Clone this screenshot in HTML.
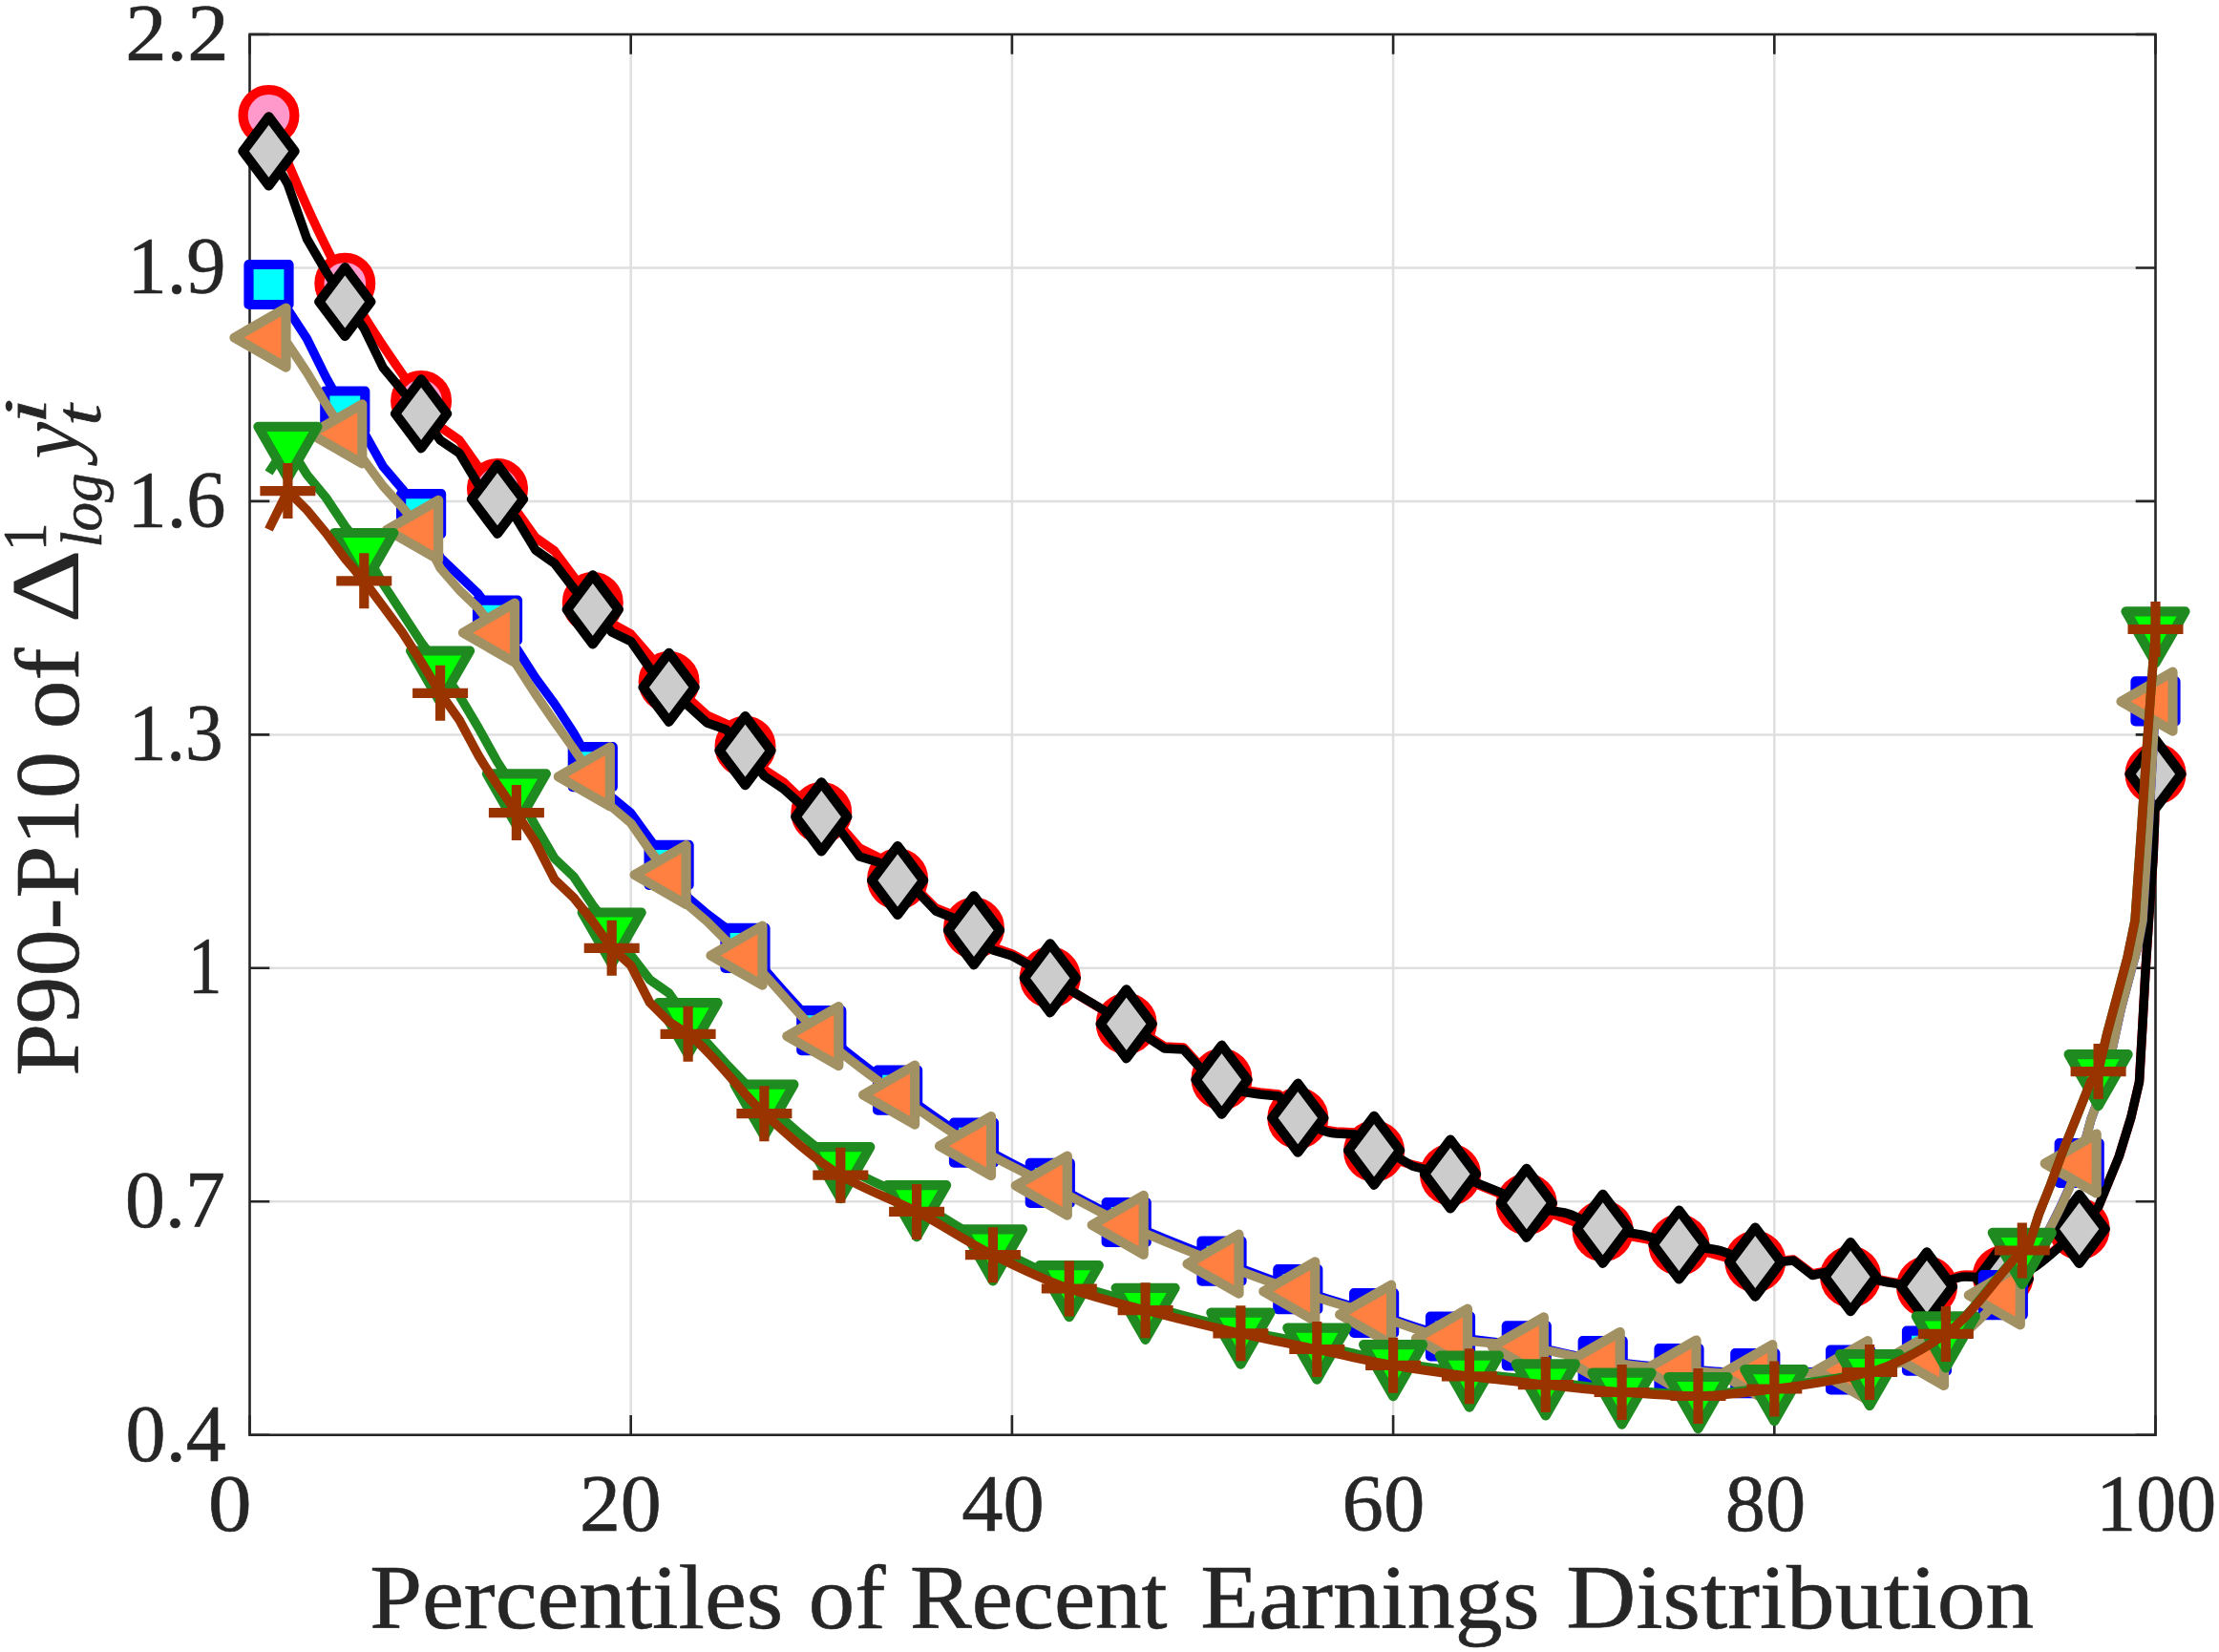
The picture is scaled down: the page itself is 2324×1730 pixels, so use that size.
<!DOCTYPE html>
<html><head><meta charset="utf-8"><title>P90-P10 chart</title>
<style>html,body{margin:0;padding:0;background:#fff;overflow:hidden;}svg{display:block;}</style>
</head><body>
<svg width="2324" height="1730" viewBox="0 0 2324 1730">
<rect width="2324" height="1730" fill="#ffffff"/>
<path d="M660.7,36.0V1502.7M1059.9,36.0V1502.7M1459.1,36.0V1502.7M1858.3,36.0V1502.7M261.5,1258.2H2257.5M261.5,1013.8H2257.5M261.5,769.4H2257.5M261.5,524.9H2257.5M261.5,280.5H2257.5" stroke="#dfdfdf" stroke-width="2.5" fill="none"/>
<path d="M261.5,1502.7V1481.9M261.5,36.0V56.8M660.7,1502.7V1481.9M660.7,36.0V56.8M1059.9,1502.7V1481.9M1059.9,36.0V56.8M1459.1,1502.7V1481.9M1459.1,36.0V56.8M1858.3,1502.7V1481.9M1858.3,36.0V56.8M2257.5,1502.7V1481.9M2257.5,36.0V56.8M261.5,1502.7H282.3M2257.5,1502.7H2236.7M261.5,1258.2H282.3M2257.5,1258.2H2236.7M261.5,1013.8H282.3M2257.5,1013.8H2236.7M261.5,769.4H282.3M2257.5,769.4H2236.7M261.5,524.9H282.3M2257.5,524.9H2236.7M261.5,280.5H282.3M2257.5,280.5H2236.7M261.5,36.0H282.3M2257.5,36.0H2236.7" stroke="#262626" stroke-width="2.6" fill="none"/>
<rect x="261.5" y="36.0" width="1996.0" height="1466.7" fill="none" stroke="#262626" stroke-width="2.6"/>
<path d="M281.5,120.9C308.1,188.3 334.7,248.4 361.3,296.7C387.9,345.0 414.5,381.9 441.1,419.9L461.1,447.0L481.1,461.0L501.0,489.0L521.0,511.9L540.9,535.0L560.9,563.0L580.8,577.0L600.8,604.0L620.8,631.0L640.7,653.0L660.7,664.0L680.6,687.0L700.6,714.0L720.6,731.0L740.5,749.0L760.5,758.0L780.5,781.7L800.4,806.0L820.4,819.0L840.3,838.0L860.3,851.0L880.3,865.0L900.2,888.0L920.2,898.0L940.1,920.6L960.1,931.0L980.1,951.0L1000.0,959.0L1020.0,971.8L1039.9,992.0L1059.9,999.0L1079.9,1010.0L1099.8,1023.6C1126.4,1040.9 1153.0,1056.6 1179.7,1071.9L1199.6,1083.0L1219.6,1096.0L1239.5,1097.0L1259.5,1119.0L1279.5,1130.0L1299.4,1141.0L1319.4,1144.0L1339.3,1146.0L1359.3,1170.9C1372.6,1178.7 1385.9,1183.9 1399.2,1185.0L1419.2,1186.0L1439.1,1205.5C1465.8,1219.4 1492.4,1220.9 1519.0,1230.0C1545.6,1239.1 1572.2,1251.2 1598.8,1261.0C1625.4,1270.8 1652.0,1282.6 1678.7,1289.0C1705.3,1295.4 1731.9,1298.4 1758.5,1303.7C1785.1,1309.0 1811.7,1321.0 1838.3,1321.0L1858.3,1321.0L1878.3,1319.0L1898.2,1334.0L1918.2,1330.0L1938.1,1337.0L1958.1,1338.0L1978.0,1342.0C1991.3,1344.2 2004.7,1347.5 2018.0,1347.5C2031.3,1347.5 2044.6,1335.0 2057.9,1335.0C2071.2,1335.0 2084.5,1336.5 2097.8,1336.5C2124.4,1336.5 2151.0,1309.8 2177.7,1287.0L2197.6,1264.0L2219.3,1211.0L2231.9,1170.0L2240.5,1133.0L2244.0,1072.0L2247.0,1017.0L2250.5,963.0L2255.0,900.0L2256.6,860.0L2257.5,810.6" fill="none" stroke="#ff0000" stroke-width="9.5" stroke-linejoin="round" stroke-linecap="butt"/>
<g fill="#ff99cc" stroke="#ff0000" stroke-width="10.2" stroke-linejoin="round">
<circle cx="281.5" cy="120.9" r="26.9"/>
<circle cx="361.3" cy="296.7" r="26.9"/>
<circle cx="441.1" cy="419.9" r="26.9"/>
<circle cx="521.0" cy="511.9" r="26.9"/>
<circle cx="620.8" cy="631.0" r="26.9"/>
<circle cx="700.6" cy="714.0" r="26.9"/>
<circle cx="780.5" cy="781.7" r="26.9"/>
<circle cx="860.3" cy="851.0" r="26.9"/>
<circle cx="940.1" cy="920.6" r="26.9"/>
<circle cx="1020.0" cy="971.8" r="26.9"/>
<circle cx="1099.8" cy="1023.6" r="26.9"/>
<circle cx="1179.7" cy="1071.9" r="26.9"/>
<circle cx="1279.5" cy="1130.0" r="26.9"/>
<circle cx="1359.3" cy="1170.9" r="26.9"/>
<circle cx="1439.1" cy="1205.5" r="26.9"/>
<circle cx="1519.0" cy="1230.0" r="26.9"/>
<circle cx="1598.8" cy="1261.0" r="26.9"/>
<circle cx="1678.7" cy="1289.0" r="26.9"/>
<circle cx="1758.5" cy="1303.7" r="26.9"/>
<circle cx="1838.3" cy="1321.0" r="26.9"/>
<circle cx="1938.1" cy="1337.0" r="26.9"/>
<circle cx="2018.0" cy="1347.5" r="26.9"/>
<circle cx="2097.8" cy="1336.5" r="26.9"/>
<circle cx="2177.7" cy="1287.0" r="26.9"/>
<circle cx="2257.5" cy="810.6" r="26.9"/>
</g>
<path d="M281.5,158.4L301.4,193.0L321.4,250.0L341.3,284.0L361.3,316.0L381.3,344.0L401.2,385.0L421.2,409.0L441.1,433.3L461.1,461.0L481.1,474.5L501.0,507.7L521.0,522.8L540.9,543.0L560.9,576.0L580.8,590.0L600.8,616.0L620.8,638.4L640.7,662.0L660.7,671.6L680.6,700.0L700.6,719.8L720.6,739.0L740.5,757.0L760.5,764.0L780.5,786.1L800.4,812.6L820.4,826.0L840.3,844.0L860.3,855.4L880.3,870.0L900.2,897.0L920.2,903.0L940.1,922.0L960.1,933.0L980.1,954.0L1000.0,962.0L1020.0,974.3L1039.9,995.0L1059.9,1001.0L1079.9,1012.0L1099.8,1024.3C1126.4,1040.6 1153.0,1055.7 1179.7,1072.3L1199.6,1085.0L1219.6,1098.0L1239.5,1099.0L1259.5,1121.0L1279.5,1130.7L1299.4,1143.0L1319.4,1146.0L1339.3,1148.0L1359.3,1170.7C1372.6,1179.1 1385.9,1185.9 1399.2,1187.0L1419.2,1188.0L1439.1,1204.8L1459.1,1209.0L1479.1,1221.0C1492.4,1225.4 1505.7,1226.0 1519.0,1229.5C1545.6,1236.5 1572.2,1250.0 1598.8,1259.8L1618.8,1267.0L1638.8,1270.0C1652.1,1272.8 1665.4,1283.8 1678.7,1286.8C1692.0,1289.8 1705.3,1290.4 1718.6,1293.0C1731.9,1295.6 1745.2,1301.1 1758.5,1303.5C1771.8,1305.9 1785.2,1306.4 1798.5,1309.0C1811.8,1311.5 1825.1,1321.1 1838.3,1321.6L1858.3,1322.0L1878.3,1320.0L1898.2,1335.5L1918.2,1331.0L1938.1,1337.1L1958.1,1339.0L1978.0,1343.0C1991.3,1345.0 2004.7,1347.4 2018.0,1347.4C2031.3,1347.4 2044.6,1337.0 2057.9,1337.0C2071.2,1337.0 2084.5,1339.4 2097.8,1339.4C2124.4,1339.4 2151.0,1310.6 2177.7,1287.0L2197.6,1264.0L2219.3,1211.0L2231.9,1170.0L2240.5,1133.0L2244.0,1072.0L2247.0,1017.0L2250.5,963.0L2255.0,900.0L2256.6,860.0L2257.5,810.6" fill="none" stroke="#000000" stroke-width="9.5" stroke-linejoin="round" stroke-linecap="butt"/>
<g fill="#cccccc" stroke="#000000" stroke-width="10.2" stroke-linejoin="round">
<path d="M281.5,122.4L308.5,158.4L281.5,194.4L254.5,158.4Z"/>
<path d="M361.3,280.0L388.3,316.0L361.3,352.0L334.3,316.0Z"/>
<path d="M441.1,397.3L468.1,433.3L441.1,469.3L414.1,433.3Z"/>
<path d="M521.0,486.8L548.0,522.8L521.0,558.8L494.0,522.8Z"/>
<path d="M620.8,602.4L647.8,638.4L620.8,674.4L593.8,638.4Z"/>
<path d="M700.6,683.8L727.6,719.8L700.6,755.8L673.6,719.8Z"/>
<path d="M780.5,750.1L807.5,786.1L780.5,822.1L753.5,786.1Z"/>
<path d="M860.3,819.4L887.3,855.4L860.3,891.4L833.3,855.4Z"/>
<path d="M940.1,886.0L967.1,922.0L940.1,958.0L913.1,922.0Z"/>
<path d="M1020.0,938.3L1047.0,974.3L1020.0,1010.3L993.0,974.3Z"/>
<path d="M1099.8,988.3L1126.8,1024.3L1099.8,1060.3L1072.8,1024.3Z"/>
<path d="M1179.7,1036.3L1206.7,1072.3L1179.7,1108.3L1152.7,1072.3Z"/>
<path d="M1279.5,1094.7L1306.5,1130.7L1279.5,1166.7L1252.5,1130.7Z"/>
<path d="M1359.3,1134.7L1386.3,1170.7L1359.3,1206.7L1332.3,1170.7Z"/>
<path d="M1439.1,1168.8L1466.1,1204.8L1439.1,1240.8L1412.1,1204.8Z"/>
<path d="M1519.0,1193.5L1546.0,1229.5L1519.0,1265.5L1492.0,1229.5Z"/>
<path d="M1598.8,1223.8L1625.8,1259.8L1598.8,1295.8L1571.8,1259.8Z"/>
<path d="M1678.7,1250.8L1705.7,1286.8L1678.7,1322.8L1651.7,1286.8Z"/>
<path d="M1758.5,1267.5L1785.5,1303.5L1758.5,1339.5L1731.5,1303.5Z"/>
<path d="M1838.3,1285.6L1865.3,1321.6L1838.3,1357.6L1811.3,1321.6Z"/>
<path d="M1938.1,1301.1L1965.1,1337.1L1938.1,1373.1L1911.1,1337.1Z"/>
<path d="M2018.0,1311.4L2045.0,1347.4L2018.0,1383.4L1991.0,1347.4Z"/>
<path d="M2097.8,1303.4L2124.8,1339.4L2097.8,1375.4L2070.8,1339.4Z"/>
<path d="M2177.7,1251.0L2204.7,1287.0L2177.7,1323.0L2150.7,1287.0Z"/>
<path d="M2257.5,774.6L2284.5,810.6L2257.5,846.6L2230.5,810.6Z"/>
</g>
<path d="M281.5,298.0L301.4,324.0L321.4,354.6L341.3,395.0L361.3,430.5L381.3,453.0L401.2,488.5L421.2,512.0L441.1,538.1L461.1,584.0L481.1,603.0L501.0,622.0L521.0,649.6L540.9,679.0L560.9,710.0L580.8,737.0L600.8,767.5L620.8,803.2L640.7,835.0L660.7,851.5L680.6,879.0L700.6,905.8L720.6,940.0L740.5,957.0L760.5,972.0L780.5,992.9C807.1,1021.1 833.7,1055.0 860.3,1079.2C886.9,1103.4 913.5,1122.2 940.1,1141.7C966.8,1161.2 993.4,1180.7 1020.0,1196.6C1046.6,1212.5 1073.2,1225.0 1099.8,1238.9C1126.4,1252.8 1153.0,1267.8 1179.7,1280.0C1212.9,1295.2 1246.2,1307.8 1279.5,1320.7C1306.1,1331.0 1332.7,1341.2 1359.3,1350.2C1385.9,1359.2 1412.5,1366.8 1439.1,1375.0C1465.8,1383.2 1492.4,1394.8 1519.0,1399.5C1545.6,1404.2 1572.2,1405.3 1598.8,1409.3C1625.4,1413.3 1652.0,1421.4 1678.7,1425.0C1705.3,1428.6 1731.9,1431.1 1758.5,1433.2C1785.1,1435.3 1811.7,1438.2 1838.3,1438.2C1871.6,1438.2 1904.9,1436.7 1938.1,1434.5C1964.8,1432.7 1991.4,1424.5 2018.0,1414.6C2044.6,1404.7 2071.2,1383.5 2097.8,1356.1C2124.4,1328.7 2151.0,1287.1 2177.7,1218.0L2190.0,1172.0L2203.0,1137.0L2212.6,1096.5L2221.3,1056.6L2231.9,1016.6L2238.5,993.0L2244.0,964.0L2250.6,860.0L2257.5,734.4" fill="none" stroke="#0000ff" stroke-width="9.5" stroke-linejoin="round" stroke-linecap="butt"/>
<g fill="#00ffff" stroke="#0000ff" stroke-width="10.2" stroke-linejoin="round">
<rect x="260.5" y="277.0" width="42" height="42"/>
<rect x="340.3" y="409.5" width="42" height="42"/>
<rect x="420.1" y="517.1" width="42" height="42"/>
<rect x="500.0" y="628.6" width="42" height="42"/>
<rect x="599.8" y="782.2" width="42" height="42"/>
<rect x="679.6" y="884.8" width="42" height="42"/>
<rect x="759.5" y="971.9" width="42" height="42"/>
<rect x="839.3" y="1058.2" width="42" height="42"/>
<rect x="919.1" y="1120.7" width="42" height="42"/>
<rect x="999.0" y="1175.6" width="42" height="42"/>
<rect x="1078.8" y="1217.9" width="42" height="42"/>
<rect x="1158.7" y="1259.0" width="42" height="42"/>
<rect x="1258.5" y="1299.7" width="42" height="42"/>
<rect x="1338.3" y="1329.2" width="42" height="42"/>
<rect x="1418.1" y="1354.0" width="42" height="42"/>
<rect x="1498.0" y="1378.5" width="42" height="42"/>
<rect x="1577.8" y="1388.3" width="42" height="42"/>
<rect x="1657.7" y="1404.0" width="42" height="42"/>
<rect x="1737.5" y="1412.2" width="42" height="42"/>
<rect x="1817.3" y="1417.2" width="42" height="42"/>
<rect x="1917.1" y="1413.5" width="42" height="42"/>
<rect x="1997.0" y="1393.6" width="42" height="42"/>
<rect x="2076.8" y="1335.1" width="42" height="42"/>
<rect x="2156.7" y="1197.0" width="42" height="42"/>
<rect x="2236.5" y="713.4" width="42" height="42"/>
</g>
<path d="M281.5,353.6L301.4,360.0L321.4,390.0L341.3,423.0L361.3,454.4L381.3,482.0L401.2,509.0L421.2,531.0L441.1,554.9L461.1,595.0L481.1,618.0L501.0,637.0L521.0,662.6L540.9,696.0L560.9,727.0L580.8,756.0L600.8,784.0L620.8,813.4L640.7,845.0L660.7,862.0L680.6,890.5L700.6,916.2L720.6,948.0L740.5,965.0L760.5,985.0L780.5,1000.7C807.1,1024.0 833.7,1061.4 860.3,1085.1C886.9,1108.8 913.5,1127.5 940.1,1146.6C966.8,1165.7 993.4,1184.6 1020.0,1200.2C1046.6,1215.8 1073.2,1227.8 1099.8,1241.6C1126.4,1255.4 1153.0,1270.6 1179.7,1282.8C1212.9,1298.1 1246.2,1311.0 1279.5,1323.7C1306.1,1333.9 1332.7,1343.6 1359.3,1352.4C1385.9,1361.2 1412.5,1368.5 1439.1,1376.7C1465.8,1384.9 1492.4,1397.4 1519.0,1401.7C1545.6,1406.0 1572.2,1406.7 1598.8,1410.4C1625.4,1414.1 1652.0,1422.3 1678.7,1426.0C1705.3,1429.7 1731.9,1432.5 1758.5,1434.5C1785.1,1436.5 1811.7,1439.2 1838.3,1439.2C1871.6,1439.2 1904.9,1437.5 1938.1,1435.2C1964.8,1433.4 1991.4,1428.2 2018.0,1420.0C2044.6,1411.8 2071.2,1385.4 2097.8,1356.4C2124.4,1327.4 2151.0,1287.8 2177.7,1218.5L2190.0,1172.0L2203.0,1137.0L2212.6,1096.5L2221.3,1056.6L2231.9,1016.6L2238.5,993.0L2244.0,964.0L2250.6,860.0L2257.5,734.7" fill="none" stroke="#a29162" stroke-width="9.5" stroke-linejoin="round" stroke-linecap="butt"/>
<g fill="#ff8040" stroke="#a29162" stroke-width="10.2" stroke-linejoin="round">
<path d="M245.5,353.6L299.5,322.6L299.5,384.6Z"/>
<path d="M325.3,454.4L379.3,423.4L379.3,485.4Z"/>
<path d="M405.1,554.9L459.1,523.9L459.1,585.9Z"/>
<path d="M485.0,662.6L539.0,631.6L539.0,693.6Z"/>
<path d="M584.8,813.4L638.8,782.4L638.8,844.4Z"/>
<path d="M664.6,916.2L718.6,885.2L718.6,947.2Z"/>
<path d="M744.5,1000.7L798.5,969.7L798.5,1031.7Z"/>
<path d="M824.3,1085.1L878.3,1054.1L878.3,1116.1Z"/>
<path d="M904.1,1146.6L958.1,1115.6L958.1,1177.6Z"/>
<path d="M984.0,1200.2L1038.0,1169.2L1038.0,1231.2Z"/>
<path d="M1063.8,1241.6L1117.8,1210.6L1117.8,1272.6Z"/>
<path d="M1143.7,1282.8L1197.7,1251.8L1197.7,1313.8Z"/>
<path d="M1243.5,1323.7L1297.5,1292.7L1297.5,1354.7Z"/>
<path d="M1323.3,1352.4L1377.3,1321.4L1377.3,1383.4Z"/>
<path d="M1403.1,1376.7L1457.1,1345.7L1457.1,1407.7Z"/>
<path d="M1483.0,1401.7L1537.0,1370.7L1537.0,1432.7Z"/>
<path d="M1562.8,1410.4L1616.8,1379.4L1616.8,1441.4Z"/>
<path d="M1642.7,1426.0L1696.7,1395.0L1696.7,1457.0Z"/>
<path d="M1722.5,1434.5L1776.5,1403.5L1776.5,1465.5Z"/>
<path d="M1802.3,1439.2L1856.3,1408.2L1856.3,1470.2Z"/>
<path d="M1902.1,1435.2L1956.1,1404.2L1956.1,1466.2Z"/>
<path d="M1982.0,1420.0L2036.0,1389.0L2036.0,1451.0Z"/>
<path d="M2061.8,1356.4L2115.8,1325.4L2115.8,1387.4Z"/>
<path d="M2141.7,1218.5L2195.7,1187.5L2195.7,1249.5Z"/>
<path d="M2221.5,734.7L2275.5,703.7L2275.5,765.7Z"/>
</g>
<path d="M281.5,495.0L301.4,464.8L321.4,497.0L341.3,521.0L361.3,551.0L381.3,576.0L401.2,611.5L421.2,642.0L441.1,672.5L461.1,699.5L481.1,728.5L501.0,762.0L521.0,798.0L540.9,828.3L560.9,865.0L580.8,899.0L600.8,918.0L620.8,948.0L640.7,973.5L660.7,1000.0L680.6,1026.0L700.6,1040.0L720.6,1068.1C747.2,1101.4 773.8,1129.0 800.4,1153.7C827.0,1178.4 853.6,1202.6 880.3,1219.1C906.9,1235.6 933.5,1244.8 960.1,1259.1C986.7,1273.4 1013.3,1291.5 1039.9,1305.4C1066.6,1319.3 1093.2,1333.5 1119.8,1343.2C1146.4,1352.9 1173.0,1359.4 1199.6,1366.8C1232.9,1376.0 1266.2,1385.2 1299.4,1392.7C1326.0,1398.7 1352.6,1403.0 1379.3,1408.6C1405.9,1414.2 1432.5,1421.6 1459.1,1426.2C1485.7,1430.8 1512.3,1434.3 1538.9,1437.6C1565.6,1440.9 1592.2,1443.4 1618.8,1446.4C1645.4,1449.4 1672.0,1453.6 1698.6,1455.6C1725.2,1457.6 1751.8,1460.0 1778.5,1460.0C1805.1,1460.0 1831.7,1455.4 1858.3,1452.2C1891.6,1448.2 1924.8,1444.3 1958.1,1436.0C1984.7,1429.4 2011.3,1414.6 2037.9,1396.4C2064.6,1378.2 2091.2,1334.9 2117.8,1308.9L2125.7,1301.6L2135.4,1271.3L2147.5,1241.0L2160.8,1204.7L2175.4,1168.4L2189.9,1132.1L2197.6,1122.1L2206.6,1083.0L2217.3,1043.0L2228.0,1003.0L2236.0,964.0L2243.3,860.0L2248.6,780.0L2257.5,658.3" fill="none" stroke="#1f8a1f" stroke-width="9.5" stroke-linejoin="round" stroke-linecap="butt"/>
<g fill="#00ff00" stroke="#1f8a1f" stroke-width="10.2" stroke-linejoin="round">
<path d="M270.4,446.8L332.4,446.8L301.4,500.8Z"/>
<path d="M350.3,558.0L412.3,558.0L381.3,612.0Z"/>
<path d="M430.1,681.5L492.1,681.5L461.1,735.5Z"/>
<path d="M509.9,810.3L571.9,810.3L540.9,864.3Z"/>
<path d="M609.7,955.5L671.7,955.5L640.7,1009.5Z"/>
<path d="M689.6,1050.1L751.6,1050.1L720.6,1104.1Z"/>
<path d="M769.4,1135.7L831.4,1135.7L800.4,1189.7Z"/>
<path d="M849.3,1201.1L911.3,1201.1L880.3,1255.1Z"/>
<path d="M929.1,1241.1L991.1,1241.1L960.1,1295.1Z"/>
<path d="M1008.9,1287.4L1070.9,1287.4L1039.9,1341.4Z"/>
<path d="M1088.8,1325.2L1150.8,1325.2L1119.8,1379.2Z"/>
<path d="M1168.6,1348.8L1230.6,1348.8L1199.6,1402.8Z"/>
<path d="M1268.4,1374.7L1330.4,1374.7L1299.4,1428.7Z"/>
<path d="M1348.3,1390.6L1410.3,1390.6L1379.3,1444.6Z"/>
<path d="M1428.1,1408.2L1490.1,1408.2L1459.1,1462.2Z"/>
<path d="M1507.9,1419.6L1569.9,1419.6L1538.9,1473.6Z"/>
<path d="M1587.8,1428.4L1649.8,1428.4L1618.8,1482.4Z"/>
<path d="M1667.6,1437.6L1729.6,1437.6L1698.6,1491.6Z"/>
<path d="M1747.5,1442.0L1809.5,1442.0L1778.5,1496.0Z"/>
<path d="M1827.3,1434.2L1889.3,1434.2L1858.3,1488.2Z"/>
<path d="M1927.1,1418.0L1989.1,1418.0L1958.1,1472.0Z"/>
<path d="M2006.9,1378.4L2068.9,1378.4L2037.9,1432.4Z"/>
<path d="M2086.8,1290.9L2148.8,1290.9L2117.8,1344.9Z"/>
<path d="M2166.6,1104.1L2228.6,1104.1L2197.6,1158.1Z"/>
<path d="M2226.5,640.3L2288.5,640.3L2257.5,694.3Z"/>
</g>
<path d="M281.5,554.5L301.4,514.1L321.4,534.0L341.3,558.0L361.3,585.0L381.3,608.3L401.2,635.0L421.2,662.0L441.1,693.0L461.1,725.8L481.1,754.0L501.0,791.0C514.3,813.4 527.6,830.8 540.9,851.1L560.9,882.0L580.8,921.0L600.8,940.0L620.8,965.0L640.7,992.8L660.7,1011.0L680.6,1050.0L700.6,1070.0L720.6,1082.8C747.2,1103.0 773.8,1142.0 800.4,1166.2C827.0,1190.4 853.6,1214.7 880.3,1230.7C906.9,1246.7 933.5,1255.1 960.1,1268.9C986.7,1282.7 1013.3,1301.0 1039.9,1314.2C1066.6,1327.4 1093.2,1340.3 1119.8,1349.5C1146.4,1358.7 1173.0,1365.2 1199.6,1372.2C1232.9,1380.9 1266.2,1388.9 1299.4,1396.3C1326.0,1402.3 1352.6,1407.4 1379.3,1413.0C1405.9,1418.6 1432.5,1425.2 1459.1,1429.8C1485.7,1434.4 1512.3,1438.0 1538.9,1441.3C1565.6,1444.6 1592.2,1447.3 1618.8,1450.1C1645.4,1452.9 1672.0,1456.2 1698.6,1458.0C1725.2,1459.8 1751.8,1462.0 1778.5,1462.0C1805.1,1462.0 1831.7,1457.7 1858.3,1454.5C1891.6,1450.5 1924.8,1445.8 1958.1,1437.0C1984.7,1430.0 2011.3,1415.2 2037.9,1396.9C2064.6,1378.6 2091.2,1336.9 2117.8,1309.5L2125.7,1301.6L2135.4,1271.3L2147.5,1241.0L2160.8,1204.7L2175.4,1168.4L2189.9,1132.1L2197.6,1122.1L2206.6,1083.0L2217.3,1043.0L2228.0,1003.0L2236.0,964.0L2243.3,860.0L2248.6,780.0L2257.5,659.0" fill="none" stroke="#993300" stroke-width="9.5" stroke-linejoin="round" stroke-linecap="butt"/>
<g fill="none" stroke="#993300" stroke-width="10.2" stroke-linejoin="round">
<path d="M272.4,514.1H330.4M301.4,485.1V543.1"/>
<path d="M352.3,608.3H410.3M381.3,579.3V637.3"/>
<path d="M432.1,725.8H490.1M461.1,696.8V754.8"/>
<path d="M511.9,851.1H569.9M540.9,822.1V880.1"/>
<path d="M611.7,992.8H669.7M640.7,963.8V1021.8"/>
<path d="M691.6,1082.8H749.6M720.6,1053.8V1111.8"/>
<path d="M771.4,1166.2H829.4M800.4,1137.2V1195.2"/>
<path d="M851.3,1230.7H909.3M880.3,1201.7V1259.7"/>
<path d="M931.1,1268.9H989.1M960.1,1239.9V1297.9"/>
<path d="M1010.9,1314.2H1068.9M1039.9,1285.2V1343.2"/>
<path d="M1090.8,1349.5H1148.8M1119.8,1320.5V1378.5"/>
<path d="M1170.6,1372.2H1228.6M1199.6,1343.2V1401.2"/>
<path d="M1270.4,1396.3H1328.4M1299.4,1367.3V1425.3"/>
<path d="M1350.3,1413.0H1408.3M1379.3,1384.0V1442.0"/>
<path d="M1430.1,1429.8H1488.1M1459.1,1400.8V1458.8"/>
<path d="M1509.9,1441.3H1567.9M1538.9,1412.3V1470.3"/>
<path d="M1589.8,1450.1H1647.8M1618.8,1421.1V1479.1"/>
<path d="M1669.6,1458.0H1727.6M1698.6,1429.0V1487.0"/>
<path d="M1749.5,1462.0H1807.5M1778.5,1433.0V1491.0"/>
<path d="M1829.3,1454.5H1887.3M1858.3,1425.5V1483.5"/>
<path d="M1929.1,1437.0H1987.1M1958.1,1408.0V1466.0"/>
<path d="M2008.9,1396.9H2066.9M2037.9,1367.9V1425.9"/>
<path d="M2088.8,1309.5H2146.8M2117.8,1280.5V1338.5"/>
<path d="M2168.6,1122.1H2226.6M2197.6,1093.1V1151.1"/>
<path d="M2228.5,659.0H2286.5M2257.5,630.0V688.0"/>
</g>
<g font-family="Liberation Serif" font-size="84" fill="#262626" stroke="#262626" stroke-width="0.6">
<text x="131.6" y="1529.9" textLength="105.1" lengthAdjust="spacingAndGlyphs">0.4</text>
<text x="131.0" y="1285.2" textLength="104.8" lengthAdjust="spacingAndGlyphs">0.7</text>
<text x="197.1" y="1040.4" textLength="35.4" lengthAdjust="spacingAndGlyphs">1</text>
<text x="134.7" y="796.0" textLength="99.0" lengthAdjust="spacingAndGlyphs">1.3</text>
<text x="133.5" y="551.6" textLength="103.0" lengthAdjust="spacingAndGlyphs">1.6</text>
<text x="133.4" y="307.2" textLength="103.2" lengthAdjust="spacingAndGlyphs">1.9</text>
<text x="131.2" y="63.0" textLength="108.4" lengthAdjust="spacingAndGlyphs">2.2</text>
<text x="218.0" y="1603.0" textLength="45.6" lengthAdjust="spacingAndGlyphs">0</text>
<text x="606.9" y="1603.0" textLength="85.9" lengthAdjust="spacingAndGlyphs">20</text>
<text x="1007.3" y="1603.0" textLength="86.5" lengthAdjust="spacingAndGlyphs">40</text>
<text x="1405.5" y="1603.0" textLength="86.8" lengthAdjust="spacingAndGlyphs">60</text>
<text x="1806.8" y="1603.0" textLength="84.5" lengthAdjust="spacingAndGlyphs">80</text>
<text x="2195.3" y="1603.0" textLength="126.0" lengthAdjust="spacingAndGlyphs">100</text>
</g>
<g font-family="Liberation Serif" font-size="95" fill="#262626" stroke="#262626" stroke-width="0.6">
<text x="387.2" y="1704.8" textLength="432.9" lengthAdjust="spacingAndGlyphs">Percentiles</text>
<text x="846.8" y="1704.8" textLength="80.6" lengthAdjust="spacingAndGlyphs">of</text>
<text x="953.0" y="1704.8" textLength="269.5" lengthAdjust="spacingAndGlyphs">Recent</text>
<text x="1257.3" y="1704.8" textLength="355.3" lengthAdjust="spacingAndGlyphs">Earnings</text>
<text x="1640.2" y="1704.8" textLength="489.9" lengthAdjust="spacingAndGlyphs">Distribution</text>
</g>
<g transform="translate(81.6,1124.4) rotate(-90)" font-family="Liberation Serif" fill="#262626" stroke="#262626" stroke-width="0.6">
<text x="-2.4" y="0" font-size="95" textLength="339.9" lengthAdjust="spacingAndGlyphs">P90-P10</text>
<text x="360.8" y="0" font-size="95" textLength="85.2" lengthAdjust="spacingAndGlyphs">of</text>
<text x="471.3" y="0" font-size="101.6" stroke-width="0" textLength="78" lengthAdjust="spacingAndGlyphs">&#916;</text>
<text x="547.4" y="-33.6" font-size="65" textLength="29.4" lengthAdjust="spacingAndGlyphs">1</text>
<text x="551" y="24.4" font-size="62" font-style="italic" textLength="78" lengthAdjust="spacingAndGlyphs">log</text>
<text x="643.6" y="0" font-size="94" font-style="italic" stroke-width="0" textLength="38.9" lengthAdjust="spacingAndGlyphs">y</text>
<text x="680.5" y="-33.6" font-size="64" font-style="italic" textLength="27" lengthAdjust="spacingAndGlyphs">i</text>
<text x="678.6" y="23" font-size="68" font-style="italic" textLength="22.6" lengthAdjust="spacingAndGlyphs">t</text>
</g>
</svg>
</body></html>
